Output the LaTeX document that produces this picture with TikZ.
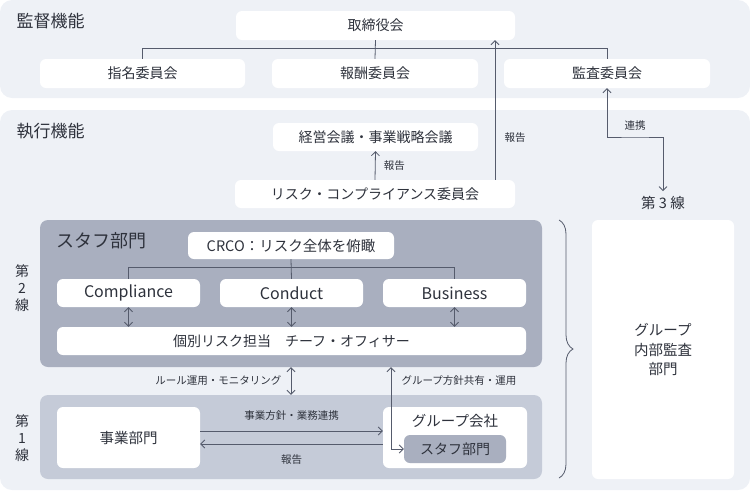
\documentclass[tikz,border=0pt]{standalone}
\usepackage{fontspec}
\setmainfont{Noto Sans CJK JP}
\usepackage{xcolor}
\usepackage{tikz}
\usetikzlibrary{arrows.meta, positioning, decorations.pathreplacing}
\definecolor{panelbg}{HTML}{EEF1F6}
\definecolor{staffbg}{HTML}{A9AFBF}
\definecolor{linebg}{HTML}{C5CBD8}
\definecolor{wire}{HTML}{555B6C}
\definecolor{ink}{HTML}{2E323C}

\begin{document}
\begin{tikzpicture}[
					x=1pt, y=-1pt,
					panel/.style={rectangle, fill=panelbg, rounded corners=12pt, inner sep=0pt},
					box/.style={rectangle, fill=white, rounded corners=6pt, inner sep=0pt, text=ink, font=\fontsize{14}{16}\selectfont},
					title/.style={anchor=west, text=ink, font=\fontsize{17}{19}\selectfont},
					conn/.style={draw=wire, line width=0.8pt},
					arrow/.style={conn, -{Straight Barb[length=4pt,width=8pt]}},
					dbl/.style={conn, {Straight Barb[length=4pt,width=8pt]}-{Straight Barb[length=4pt,width=8pt]}},
					lbl/.style={text=ink, font=\fontsize{10.5}{12}\selectfont}
					]
					\useasboundingbox (0,0) rectangle (750,491);
					% Panels
					\node[panel, minimum width=750pt, minimum height=98pt] (supv) at (375,49) {};
					\node[panel, minimum width=750pt, minimum height=380pt] (exec) at (375,300) {};
					\node[title] (supvtitle) at (13,21) {監督機能};
					\node[title] (exectitle) at (13,131) {執行機能};
					
					% Supervisory boxes
					\node[box, minimum width=279pt, minimum height=29pt] (board) at (375.5,25.5) {取締役会};
					\node[box, minimum width=205pt, minimum height=29pt] (nomcom) at (142.5,73.5) {指名委員会};
					\node[box, minimum width=206pt, minimum height=29pt] (remcom) at (375,73.5) {報酬委員会};
					\node[box, minimum width=206pt, minimum height=29pt] (audcom) at (607,73.5) {監査委員会};
					
					% Executive boxes
					\node[box, minimum width=205pt, minimum height=28pt] (mgmt) at (375.5,137) {経営会議・事業戦略会議};
					\node[box, minimum width=280pt, minimum height=28pt] (rcc) at (375,194) {リスク・コンプライアンス委員会};
					
					% Second line
					\node[rectangle, fill=staffbg, rounded corners=8pt, minimum width=502pt, minimum height=147pt] (staff) at (291,293.5) {};
					\node[title, font=\fontsize{18}{20}\selectfont] (stafftitle) at (53,241) {スタフ部門};
					\node[box, minimum width=206pt, minimum height=27pt, font=\fontsize{14.5}{16}\selectfont] (crco) at (291,245.5) {CRCO：リスク全体を俯瞰};
					\node[box, minimum width=143pt, minimum height=28pt, font=\fontsize{16}{18}\selectfont] (compl) at (128.5,293) {Compliance};
					\node[box, minimum width=143pt, minimum height=28pt, font=\fontsize{16}{18}\selectfont] (conduct) at (291.5,293) {Conduct};
					\node[box, minimum width=143pt, minimum height=28pt, font=\fontsize{16}{18}\selectfont] (business) at (454.5,293) {Business};
					\node[box, minimum width=469pt, minimum height=28pt] (officer) at (291.5,341) {個別リスク担当　チーフ・オフィサー};
					
					% First line
					\node[rectangle, fill=linebg, rounded corners=8pt, minimum width=502pt, minimum height=84pt] (firstline) at (291,437) {};
					\node[box, minimum width=143pt, minimum height=61pt, font=\fontsize{14.5}{16}\selectfont] (bizdept) at (128.5,437.5) {事業部門};
					\node[box, minimum width=144pt, minimum height=61pt] (groupco) at (455,437.5) {};
					\node[text=ink, font=\fontsize{14.5}{16}\selectfont] (grouptxt) at (455,421) {グループ会社};
					\node[box, fill=staffbg, minimum width=102pt, minimum height=28pt] (gstaff) at (455,449) {スタフ部門};
					
					% Third line
					\node[box, minimum width=142pt, minimum height=259pt, align=center, font=\fontsize{14.5}{19.5}\selectfont] (auditdept) at (663,349.5) {グループ\\内部監査\\部門};
					\node[text=ink, font=\fontsize{14.5}{16}\selectfont, inner sep=1pt] (line3) at (663,203) {第 3 線};
					\node[text=ink, align=center, font=\fontsize{14}{17}\selectfont] (line2) at (22,288) {第\\2\\線};
					\node[text=ink, align=center, font=\fontsize{14}{17}\selectfont] (line1) at (22,438) {第\\1\\線};
					
					% Tree lines
					\draw[conn] (board.south) -- (remcom.north);
					\draw[conn] (nomcom.north) -- ++(0,-10) -| (audcom.north);
					\draw[conn] (crco.south) -- (conduct.north);
					\draw[conn] (compl.north) -- ++(0,-11) -| (business.north);
					
					% Reports
					\draw[arrow] (rcc.north) -- (mgmt.south) node[midway, right=5pt, lbl] (rep1) {報告};
					\draw[arrow] ([xshift=120pt]rcc.north) -- ([xshift=119.5pt]board.south) node[pos=0.3, right=6pt, lbl] (rep2) {報告};
					\coordinate (bend) at (635,137);
					\draw[dbl] (audcom.south) |- (bend) -| ([yshift=4pt]line3.north);
					\node[lbl, above=3pt] (coop) at (bend) {連携};
					
					% Second line arrows
					\draw[dbl] (compl.south) -- (compl.south |- officer.north);
					\draw[dbl] (conduct.south) -- (conduct.south |- officer.north);
					\draw[dbl] (business.south) -- (business.south |- officer.north);
					\draw[dbl] (staff.south) -- (firstline.north) node[midway, left=6pt, lbl] (rulemon) {ルール運用・モニタリング};
					\draw[dbl] (gstaff.west) -| ([xshift=100pt]staff.south);
					\node[lbl, anchor=west] (grppol) at (398,381) {グループ方針共有・運用};
					
					% First line arrows
					\draw[arrow] ([yshift=6.5pt]bizdept.east) -- ([yshift=6.5pt]groupco.west) node[midway, above=7pt, lbl] (bizpol) {事業方針・業務連携};
					\draw[arrow] ([yshift=-6.5pt]groupco.west) -- ([yshift=-6.5pt]bizdept.east) node[midway, below=7pt, lbl] (rep3) {報告};
					
					% Brace
					\draw[conn, decorate, decoration={brace, amplitude=14pt}] (559,220) -- (559,478);
				\end{tikzpicture}
\end{document}
